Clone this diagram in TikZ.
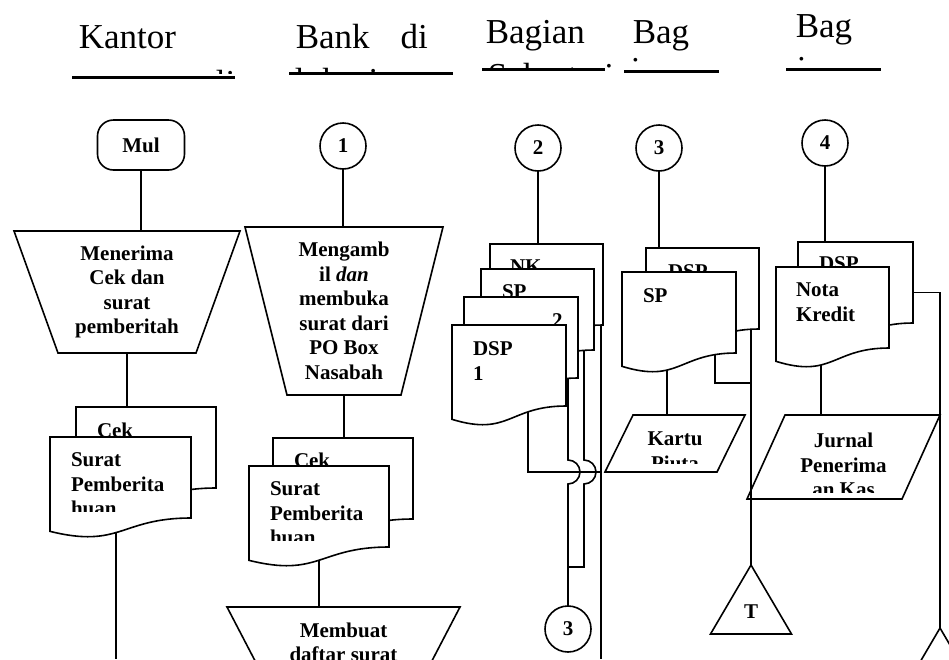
\documentclass[tikz,border=0pt]{standalone}
\usepackage{fontspec}
\setmainfont{Liberation Serif}
\usetikzlibrary{calc,positioning}

\newcommand{\dokumen}[1]{\draw[fill=white] (#1.north west) -- (#1.north east) -- ($(#1.north east)!0.802!(#1.south east)$) .. controls ($(#1.north)!0.802!(#1.south)$) and ($(#1.north)!1.107!(#1.south)$) .. ($(#1.north west)!0.934!(#1.south west)$) -- cycle;}
\newcommand{\trapesium}[2]{\draw (#1.north west) -- (#1.north east) -- ([xshift=-#2pt]#1.south east) -- ([xshift=#2pt]#1.south west) -- cycle;}
\newcommand{\jajaran}[2]{\draw ([xshift=#2pt]#1.north west) -- (#1.north east) -- ([xshift=-#2pt]#1.south east) -- (#1.south west) -- cycle;}
\newcommand{\segitiga}[1]{\draw (#1.north) -- (#1.south east) -- (#1.south west) -- cycle;}

\begin{document}
\begin{tikzpicture}[x=1pt,y=-1pt,line width=1.6pt,
    judul/.style={font=\fontsize{35}{40}\selectfont,inner sep=0pt,anchor=base west},
    teks/.style={font=\fontsize{21}{24.5}\selectfont\bfseries,inner sep=0pt,outer sep=0pt},
    kotak/.style={teks,align=center},
    dokbox/.style={anchor=north west,inner sep=0pt,outer sep=0pt,minimum height=101pt},
    doklabel/.style={teks,align=left},
    bulat/.style={teks,draw,circle,minimum size=46pt},
    terminal/.style={teks,draw,rounded corners=16pt,minimum width=87pt,minimum height=50pt},
    garis/.style={line width=3pt}]
\useasboundingbox (0,0) rectangle (949,659);
\clip (0,0) rectangle (949,659);

\node[judul] (jd1) at (78,48) {Kantor};
\node[judul] (jd2) at (295,48) {Bank\hspace{31pt}di};
\node[judul] (jd3) at (485,43) {Bagian};
\node[judul] (jd4) at (632,43) {Bag};
\node[judul] (jd5) at (795,37) {Bag};
\begin{scope}
  \clip (200,55) rectangle (245,73);
  \node[judul] (sub1) at (215,94) {li};
\end{scope}
\begin{scope}
  \clip (285,55) rectangle (460,71);
  \node[judul] (sub2) at (294,92) {lokasi};
\end{scope}
\begin{scope}
  \clip (480,50) rectangle (615,67);
  \node[judul] (sub3) at (487,87) {Sekretariat};
\end{scope}
\begin{scope}
  \clip (620,50) rectangle (660,62);
  \node[judul] (sub4) at (630,81) {ian};
\end{scope}
\begin{scope}
  \clip (785,50) rectangle (830,61);
  \node[judul] (sub5) at (796,80) {ian};
\end{scope}
\draw[garis] (72,77) -- (235,77) (289,73) -- (453,73) (482,69) -- (605,69)
  (624,71) -- (719,71) (786,69) -- (881,69);

\node[terminal] (mul) at (141,145) {Mul};
\node[bulat] (kon1) at (343,146) {1};
\node[bulat] (kon2) at (538,148) {2};
\node[bulat] (kon3) at (659,148) {3};
\node[bulat] (kon4) at (825,143) {4};
\node[bulat] (kon5) at (568,629) {3};

\node[kotak,minimum width=226pt,minimum height=122pt] (terima) at (127,292) {Menerima\\Cek dan\\surat\\pemberitah};
\node[kotak,minimum width=198pt,minimum height=168pt] (ambil) at (344,311) {Mengamb\\il \textit{dan}\\membuka\\surat dari\\PO Box\\Nasabah};
\node[kotak,minimum width=233pt,minimum height=71pt] (buat) at (343.5,642.5) {Membuat\\daftar surat};
\node[kotak,minimum width=140pt,minimum height=57pt] (kartu) at (675,443.5) {};
\node[kotak,minimum width=193pt,minimum height=84pt] (jurnal) at (843.5,457) {};
\node[kotak,minimum width=81pt,minimum height=69pt] (tT) at (751,599.5) {};
\node[kotak,minimum width=81pt,minimum height=69pt] (tT2) at (940,662.5) {};

\node[dokbox,minimum width=140pt] (cek1) at (76,407) {};
\node[dokbox,minimum width=141pt] (surat1) at (50,437) {};
\node[dokbox,minimum width=140pt] (cek2) at (273,438) {};
\node[dokbox,minimum width=140pt] (surat2) at (249,466) {};
\node[dokbox,minimum width=113pt] (nk) at (490,244) {};
\node[dokbox,minimum width=113pt] (sp3) at (481,269) {};
\node[dokbox,minimum width=114pt] (dsp2) at (464,297) {};
\node[dokbox,minimum width=114pt] (dsp1) at (452,325) {};
\node[dokbox,minimum width=113pt] (dsp4) at (646,248) {};
\node[dokbox,minimum width=114pt] (sp4) at (622,272) {};
\node[dokbox,minimum width=115pt] (dsp5) at (798,242) {};
\node[dokbox,minimum width=113pt] (nota) at (776,267) {};

\coordinate (ujung1) at (116,659);
\coordinate (temu1) at (601,472);
\coordinate (ujung3) at (601,659);
\coordinate (temu2) at (568,567);
\coordinate (temu4) at (751,383);
\coordinate (xdsp1) at ([xshift=76pt]dsp1.west);
\coordinate (xsp3) at ([xshift=103pt]sp3.west);
\coordinate (xsp4) at ([xshift=45pt]sp4.west);
\coordinate (xsp4b) at ([xshift=93pt]sp4.west);
\coordinate (xnota) at ([xshift=45pt]nota.west);

\draw (mul) -- (mul |- terima.north);
\draw (terima.south) -- (terima.south |- cek1.north);
\draw (ujung1 |- surat1.center) -- (ujung1);
\draw (kon1) -- (kon1 |- ambil.north);
\draw (ambil.south) -- (ambil.south |- cek2.north);
\draw (surat2.center) -- (surat2.center |- buat.north);
\draw (kon2) -- (kon2 |- nk.north);
\draw (xdsp1) |- (temu1);
\draw (ujung3 |- nk.center) -- (ujung3);
\draw (kon5 |- dsp2.center) -- ($(kon5 |- temu1)+(0,-12)$) arc (90:-90:12pt) -- (kon5);
\draw (xsp3) -- ($(xsp3 |- temu1)+(0,-12)$) arc (90:-90:12pt) |- (temu2);
\draw (kon3) -- (kon3 |- dsp4.north);
\draw (xsp4) -- (xsp4 |- kartu.north);
\draw (xsp4b) |- (temu4);
\draw (tT.north |- dsp4.center) -- (tT.north);
\draw (kon4) -- (kon4 |- dsp5.north);
\draw (xnota) -- (xnota |- jurnal.north);
\draw (dsp5.east) -| (tT2.north);

\dokumen{cek1}
\node[doklabel,below right=16pt and 21pt of cek1.north west] (lcek1) {Cek};
\dokumen{surat1}
\begin{scope}
  \clip (50,437) rectangle (191,511);
  \node[doklabel,below right=16pt and 21pt of surat1.north west] (lsurat1) {Surat\\Pemberita\\huan};
\end{scope}
\dokumen{cek2}
\node[doklabel,below right=15pt and 21pt of cek2.north west] (lcek2) {Cek};
\dokumen{surat2}
\begin{scope}
  \clip (249,466) rectangle (389,540);
  \node[doklabel,below right=16pt and 21pt of surat2.north west] (lsurat2) {Surat\\Pemberita\\huan};
\end{scope}
\dokumen{nk}
\node[doklabel,below right=16pt and 20pt of nk.north west] (lnk) {NK};
\dokumen{sp3}
\node[doklabel,below right=16pt and 21pt of sp3.north west] (lsp3) {SP};
\dokumen{dsp2}
\node[doklabel,below right=17pt and 88pt of dsp2.north west] (ldsp2) {2};
\dokumen{dsp1}
\node[doklabel,below right=17pt and 21pt of dsp1.north west] (ldsp1) {DSP\\1};
\dokumen{dsp4}
\node[doklabel,below right=17pt and 22pt of dsp4.north west] (ldsp4) {DSP};
\dokumen{sp4}
\node[doklabel,below right=17pt and 21pt of sp4.north west] (lsp4) {SP};
\dokumen{dsp5}
\node[doklabel,below right=15pt and 21pt of dsp5.north west] (ldsp5) {DSP};
\dokumen{nota}
\node[doklabel,below right=16pt and 20pt of nota.north west] (lnota) {Nota\\Kredit};

\begin{scope}
  \clip (600,415) rectangle (750,463);
  \node[kotak,below=17pt of kartu.north] (lkartu) {Kartu\\Piuta};
\end{scope}
\begin{scope}
  \clip (740,415) rectangle (945,492);
  \node[kotak,below=18pt of jurnal.north] (ljurnal) {Jurnal\\Penerima\\an Kas};
\end{scope}

\trapesium{terima}{44}
\trapesium{ambil}{42}
\trapesium{buat}{37}
\jajaran{kartu}{28}
\jajaran{jurnal}{38}
\segitiga{tT}
\segitiga{tT2}
\node[teks,below=5pt of tT.center] (lT) {T};
\end{tikzpicture}
\end{document}
